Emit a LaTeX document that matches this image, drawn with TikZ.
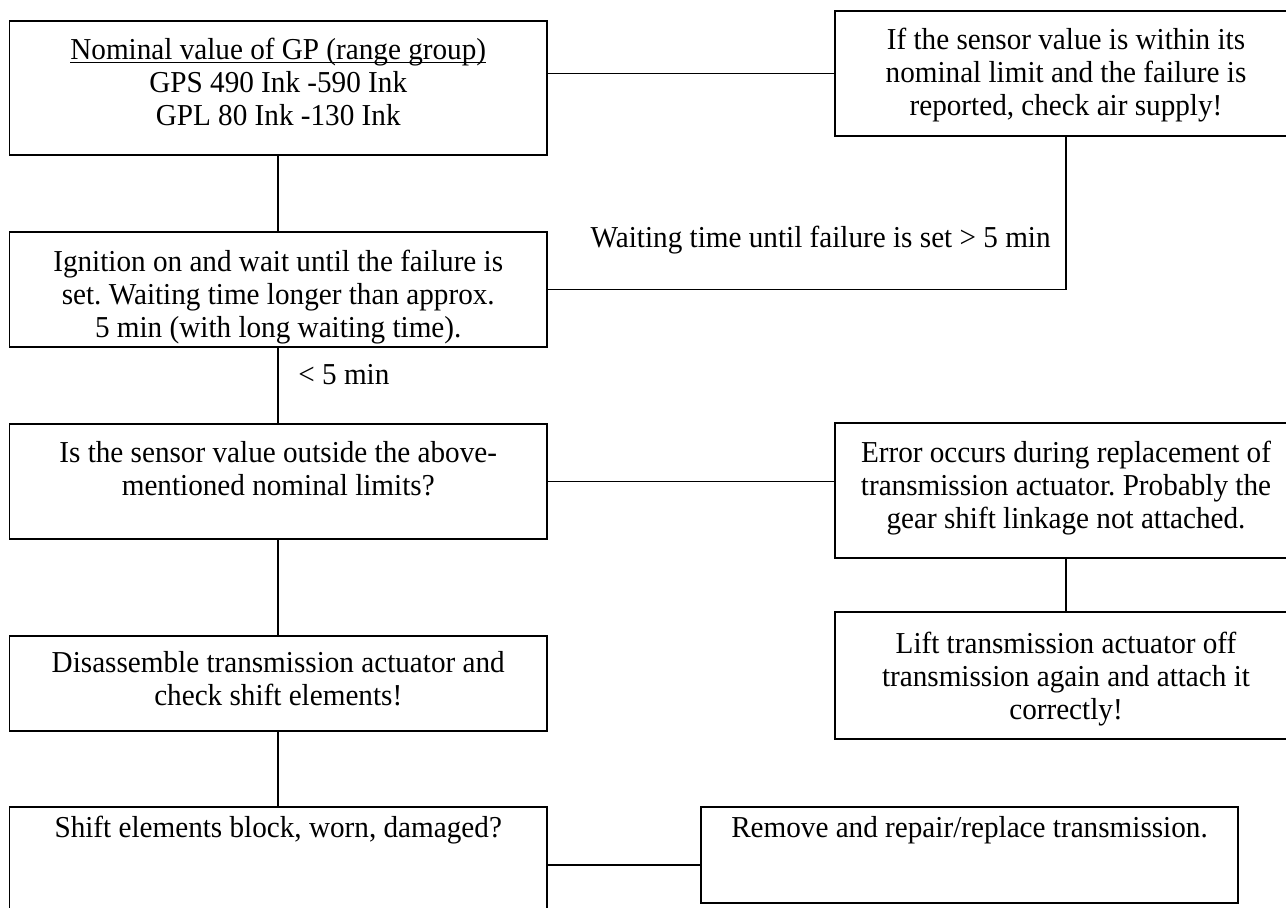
\documentclass[tikz,border=0pt]{standalone}
\usepackage{fontspec}
\setmainfont{Liberation Serif}[FakeStretch=0.96]
\usetikzlibrary{positioning,calc}
\tikzset{
  bx/.style={draw=black,line width=0.8pt,anchor=north west,align=flush center,
    inner xsep=0pt,inner ysep=0pt,outer sep=0pt,text height=19.5pt,
    font=\fontsize{15.2}{16.5}\selectfont\frenchspacing},
  bxl/.style={bx,text width=268.75pt},
  bxr/.style={bx,text width=231pt},
  link/.style={draw=black,line width=0.8pt},
  lbl/.style={font=\fontsize{15.2}{16.5}\selectfont,inner sep=0pt},
}
\newcommand{\uline}[1]{\underline{\smash{#1}}}

\begin{document}
\begin{tikzpicture}[x=0.5pt,y=-0.5pt]
\useasboundingbox (0,0) rectangle (1286,908);
\clip (0,0) rectangle (1286,908);

% left column
\node[bxl,text depth=47.5pt] (gp) at (9.5,21)
  {\uline{Nominal value of GP (range group)}\\GPS 490 Ink -590 Ink\\GPL 80 Ink -130 Ink};
\node[bxl,text height=20pt,text depth=37.5pt] (ign) at (9.5,232)
  {Ignition on and wait until the failure is\\set. Waiting time longer than approx.\\5 min (with long waiting time).};
\node[bxl,text depth=38pt] (sens) at (9.5,424)
  {Is the sensor value outside the above-\\mentioned nominal limits?};
\node[bxl,text height=18.5pt,text depth=29pt] (dis) at (9.5,636)
  {Disassemble transmission actuator and\\check shift elements!};
\node[bxl,text height=15pt,text depth=43pt] (blk) at (9.5,807)
  {Shift elements block, worn, damaged?};

% right column
\node[bxr,text depth=43pt] (air) at (835,11)
  {If the sensor value is within its\\nominal limit and the failure is\\reported, check air supply!};
\node[bxr,text height=20pt,text depth=47.5pt] (err) at (835,423)
  {Error occurs during replacement of\\transmission actuator. Probably the\\gear shift linkage not attached.};
\node[bxr,text height=21pt,text depth=42.5pt] (lift) at (835,612)
  {Lift transmission actuator off\\transmission again and attach it\\correctly!};
\node[bxl,text width=268.5pt,text height=15pt,text depth=33pt] (rep) at (701,807)
  {Remove and repair/replace transmission.};

% connectors
\draw[link] (air.west -| gp.east) -- (air.west);
\draw[link] (gp.south) -- (ign.north);
\draw[link] (ign.east) -| (air.south);
\draw[link] (ign.south) -- (sens.north);
\draw[link] (sens.east) -- (sens.east -| err.west);
\draw[link] (err.south) -- (lift.north);
\draw[link] (sens.south) -- (dis.north);
\draw[link] (dis.south) -- (blk.north);
\draw[link] (blk.east) -- (blk.east -| rep.west);

% labels
\node[lbl,anchor=east] (late) at (1051,240) {Waiting time until failure is set > 5 min};
\node[lbl,anchor=west] (early) at (298,375) {< 5 min};
\end{tikzpicture}
\end{document}
